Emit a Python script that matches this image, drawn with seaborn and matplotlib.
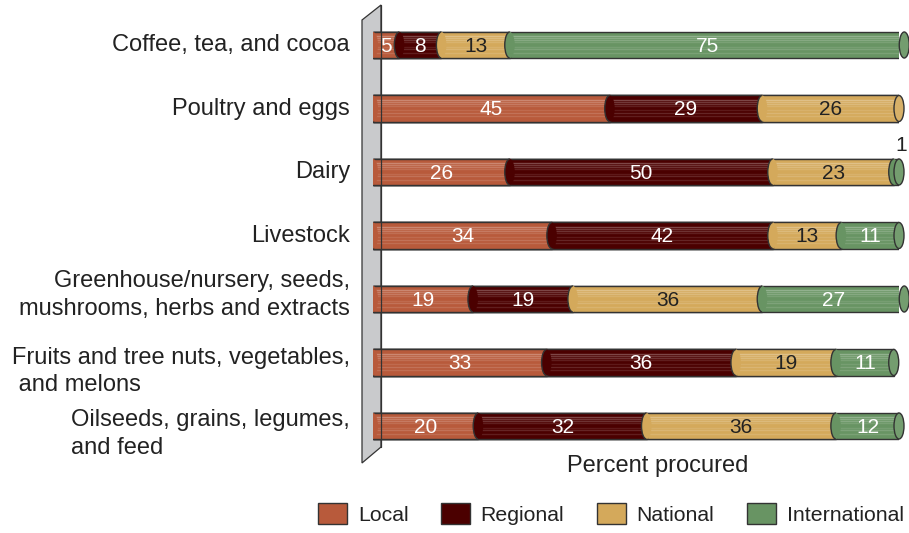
import numpy as np
import pandas as pd
import matplotlib
matplotlib.use("Agg")
import matplotlib.pyplot as plt
import seaborn as sns
from matplotlib.patches import Ellipse, Arc, Polygon, Patch
from matplotlib.lines import Line2D

categories = [
    "Coffee, tea, and cocoa",
    "Poultry and eggs",
    "Dairy",
    "Livestock",
    "Greenhouse/nursery, seeds,\nmushrooms, herbs and extracts",
    "Fruits and tree nuts, vegetables,\n and melons",
    "Oilseeds, grains, legumes,\nand feed",
]
series = ["Local", "Regional", "National", "International"]
local = [5, 45, 26, 34, 19, 33, 20]
regional = [8, 29, 50, 42, 19, 36, 32]
national = [13, 26, 23, 13, 36, 19, 36]
international = [75, 0, 1, 11, 27, 11, 12]
colors = ["#B85A3B", "#4B0000", "#D4A95B", "#689463"]
text_colors = ["white", "white", "#222222", "white"]

sns.set_theme(style="white")
plt.rcParams["font.family"] = ["Liberation Sans", "DejaVu Sans"]

W, H = 909, 533
fig = plt.figure(figsize=(W / 100, H / 100), dpi=100)

# axes placement (pixel based)
x0_px, x100_px = 373, 899
row0_px, row6_px = 45, 426
sp = (row6_px - row0_px) / 6
ylo, yhi = -0.6, 6.7
top_px = row0_px + ylo * sp
bot_px = row6_px + (yhi - 6) * sp
ax = fig.add_axes([x0_px / W, 1 - bot_px / H, (x100_px - x0_px) / W, (bot_px - top_px) / H])
ax.patch.set_alpha(0)

vals = np.array([local, regional, national, international], dtype=float)
cum = vals.cumsum(axis=0)
starts = cum - vals

bar_h = 0.41
edge = "#333333"
# stacked bars: draw cumulative totals, largest first
for i in range(3, -1, -1):
    df = pd.DataFrame({"cat": categories, "val": cum[i]})
    sns.barplot(data=df, x="val", y="cat", order=categories, orient="h",
                color=colors[i], saturation=1, width=bar_h, ax=ax,
                edgecolor=edge, linewidth=1.0, zorder=2 + (3 - i) * 0.01)

unit_px = (x100_px - x0_px) / 100.0
ell_w = 10 / unit_px  # ellipse width in data units

def lighten(c, f):
    rgb = np.array(matplotlib.colors.to_rgb(c))
    return tuple(rgb + (1 - rgb) * f)

for r in range(len(categories)):
    for i in range(4):
        v = vals[i, r]
        if v <= 0:
            continue
        s = starts[i, r]
        e = cum[i, r]
        z = 3 + i * 0.1
        # stripes for a cylinder look
        for off, a in [(-0.14, 0.28), (-0.11, 0.22), (-0.075, 0.2), (-0.04, 0.12),
                       (0.03, 0.1), (0.07, 0.15), (0.12, 0.12)]:
            ax.plot([s + 0.3, e - 0.3], [r + off, r + off], color="white", alpha=a,
                    lw=1.0, zorder=z, solid_capstyle="butt")
        # rounded left end of the segment
        ax.add_patch(Ellipse((s, r), ell_w, bar_h, facecolor=colors[i], edgecolor="none", zorder=z + 0.01))
        ax.add_patch(Arc((s, r), ell_w, bar_h, theta1=90, theta2=270, edgecolor=edge, lw=1.0, zorder=z + 0.02))
    # right end cap
    last = max(i for i in range(4) if vals[i, r] > 0)
    endx = cum[last, r]
    ax.add_patch(Ellipse((endx, r), ell_w, bar_h, facecolor=lighten(colors[last], 0.08),
                         edgecolor=edge, lw=1.0, zorder=4, clip_on=False))

# value labels
for r in range(len(categories)):
    for i in range(4):
        v = vals[i, r]
        if v <= 0:
            continue
        cx = starts[i, r] + v / 2
        if v < 3:
            ax.text(cx + 0.9, r - 0.42, f"{int(v)}", ha="center", va="center", fontsize=15,
                    color="#222222", zorder=6, clip_on=False)
        else:
            ax.text(cx, r + 0.02, f"{int(v)}", ha="center", va="center", fontsize=15,
                    color=text_colors[i], zorder=6)

ax.set_xlim(0, 100)
ax.set_ylim(yhi, ylo)
ax.set_xticks([])
ax.set_yticks([])
ax.set_xlabel("")
ax.set_ylabel("")
for sp_ in ax.spines.values():
    sp_.set_visible(False)

# category labels
label_x = 350
aligns = ["right", "right", "right", "right", "right", "left", "left"]
y_off = [0, 0, 0, 0, -4, 9, 8]
for r, (lab, al) in enumerate(zip(categories, aligns)):
    ypx = row0_px + r * sp + y_off[r]
    ax.text(label_x / W, 1 - ypx / H, lab, transform=fig.transFigure, ha="right", va="center",
            multialignment=al, fontsize=17, color="#222222", linespacing=1.3)

# wall (decorative parallelogram)
def fp(x, y):
    return (x / W, 1 - y / H)

wall = Polygon([fp(362, 20), fp(381, 5), fp(381, 447), fp(362, 463)], closed=True,
               transform=fig.transFigure, facecolor="#C9CACC", edgecolor=edge, lw=0.9, zorder=-1)
fig.add_artist(wall)
fig.add_artist(Line2D([381 / W, 381 / W], [1 - 5 / H, 1 - 447 / H], transform=fig.transFigure,
                      color=edge, lw=0.9, zorder=10))

fig.text(658 / W, 1 - 466 / H, "Percent procured", ha="center", va="center", fontsize=17,
         color="#222222")

handles = [Patch(facecolor=c, edgecolor=edge, lw=1.0) for c in colors]
fig.legend(handles, series, loc="center", bbox_to_anchor=(611 / W, 1 - 514 / H), ncol=4,
           frameon=False, fontsize=15.3, handlelength=1.35, handleheight=1.15,
           handletextpad=0.5, columnspacing=1.55, labelcolor="#222222")

fig.savefig("out.png", dpi=100)
